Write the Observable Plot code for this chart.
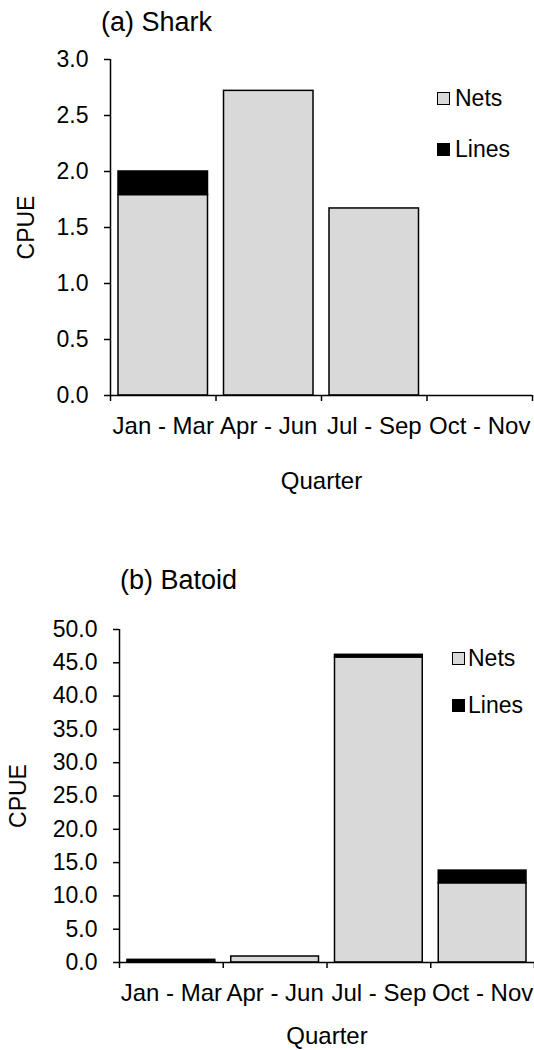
<!DOCTYPE html>
<html><head><meta charset="utf-8">
<script src="https://cdn.jsdelivr.net/npm/d3@7"></script>
<script src="https://cdn.jsdelivr.net/npm/@observablehq/plot@0.6"></script>
<style>
body{margin:0;background:#fff;font-family:"Liberation Sans",Arial,sans-serif;}
#wrap{position:relative;width:534px;height:1050px;overflow:hidden;background:#fff;}
.panel{position:absolute;left:0;}
.panel svg{overflow:visible;}
.title{position:absolute;font-size:27px;line-height:1;color:#000;white-space:nowrap;}
.sw{position:absolute;box-sizing:border-box;}
.lt{position:absolute;font-size:23px;line-height:1;color:#000;white-space:nowrap;}
</style></head>
<body><div id="wrap"></div>
<script>
// ---- data ----
const quarters = ["Jan - Mar", "Apr - Jun", "Jul - Sep", "Oct - Nov"];
const series = ["Nets", "Lines"];
const seriesColors = ["#d9d9d9", "#000000"];
const sharkNets = [1.79, 2.72, 1.67, 0];
const sharkLines = [0.21, 0, 0, 0];
const batoidNets = [0.1, 0.9, 45.8, 11.9];
const batoidLines = [0.3, 0, 0.4, 1.9];
const sharkTicks = [0, 0.5, 1.0, 1.5, 2.0, 2.5, 3.0];
const batoidTicks = [0, 5, 10, 15, 20, 25, 30, 35, 40, 45, 50];

function rowsOf(nets, lines) {
  return quarters.flatMap((q, i) => [
    {qi: i, quarter: q, gear: "Nets", value: nets[i]},
    {qi: i, quarter: q, gear: "Lines", value: lines[i]}
  ]);
}

function chart(o) {
  return Plot.plot({
    width: 534, height: o.height,
    marginTop: o.marginTop, marginBottom: o.marginBottom,
    marginLeft: o.marginLeft, marginRight: o.marginRight,
    style: {fontFamily: "'Liberation Sans', Arial, sans-serif", fontSize: "23px", color: "#000", background: "transparent", overflow: "visible"},
    x: {type: "linear", domain: [0, quarters.length]},
    y: {domain: [0, o.yTicks[o.yTicks.length - 1]]},
    color: {domain: series, range: seriesColors},
    marks: [
      Plot.rectY(o.rows, Plot.stackY({
        x: "qi", interval: 1, y: "value", fill: "gear", order: series,
        stroke: "#000", strokeWidth: 1.5, insetLeft: 8, insetRight: 8,
        filter: d => d.value > 0
      })),
      Plot.ruleX([0], {stroke: "#000", strokeWidth: 1.5}),
      Plot.ruleY([0], {stroke: "#000", strokeWidth: 1.5}),
      Plot.axisY({ticks: o.yTicks, tickFormat: d3.format(".1f"), tickSize: 6, tickPadding: 16,
        strokeWidth: 1.5, fontSize: 23, label: "CPUE", labelArrow: "none", labelAnchor: "center",
        labelOffset: o.yLabelOffset}),
      Plot.axisX({ticks: d3.range(quarters.length + 1), tickFormat: () => "", tickSize: 6,
        strokeWidth: 1.5, label: null}),
      Plot.axisX({ticks: quarters.map((q, i) => i + 0.5), tickFormat: v => quarters[Math.floor(v)],
        tickSize: 0, tickPadding: 21, fontSize: 24, label: "Quarter", labelArrow: "none",
        labelAnchor: "center", labelOffset: o.xLabelOffset})
    ]
  });
}

const wrap = document.getElementById("wrap");

function addPanel(top, svg) {
  const d = document.createElement("div");
  d.className = "panel";
  d.style.top = top + "px";
  d.appendChild(svg);
  wrap.appendChild(d);
}
function addTitle(text, left, top) {
  const d = document.createElement("div");
  d.className = "title";
  d.textContent = text;
  d.style.left = left + "px";
  d.style.top = top + "px";
  wrap.appendChild(d);
}
function addLegend(left, tops, size, textLeft) {
  series.forEach((s, i) => {
    const sw = document.createElement("div");
    sw.className = "sw";
    sw.style.left = left + "px";
    sw.style.top = tops[i] + "px";
    sw.style.width = size + "px";
    sw.style.height = size + "px";
    sw.style.background = seriesColors[i];
    sw.style.border = "1px solid #000";
    wrap.appendChild(sw);
    const t = document.createElement("div");
    t.className = "lt";
    t.textContent = s;
    t.style.left = textLeft + "px";
    t.style.top = (tops[i] + size / 2 - 12) + "px";
    wrap.appendChild(t);
  });
}

addPanel(0, chart({
  rows: rowsOf(sharkNets, sharkLines), yTicks: sharkTicks,
  height: 510, marginTop: 59, marginBottom: 115, marginLeft: 110, marginRight: 2,
  yLabelOffset: 93, xLabelOffset: 93
}));
addPanel(540, chart({
  rows: rowsOf(batoidNets, batoidLines), yTicks: batoidTicks,
  height: 510, marginTop: 89, marginBottom: 88, marginLeft: 119, marginRight: 0,
  yLabelOffset: 110, xLabelOffset: 81
}));

addTitle("(a) Shark", 101, 9);
addTitle("(b) Batoid", 120, 567);
addLegend(437, [92, 143], 13, 455);
addLegend(452, [652, 699], 13, 468);
</script>
</body></html>
